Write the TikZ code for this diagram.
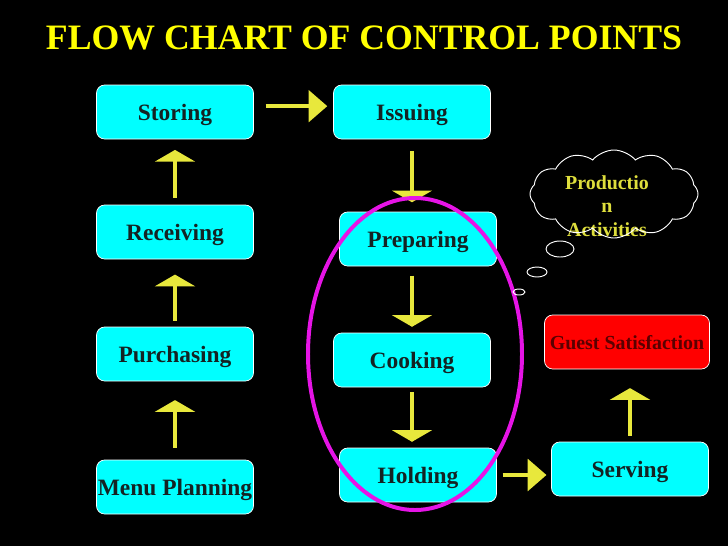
\documentclass[tikz,border=0pt]{standalone}
\usepackage{fontspec}
\setmainfont{Liberation Serif}
\usetikzlibrary{arrows.meta,shapes.symbols}
\definecolor{boxcyan}{RGB}{0,255,255}
\definecolor{boxtext}{RGB}{20,35,35}
\definecolor{guestred}{RGB}{255,0,0}
\definecolor{guesttext}{RGB}{90,0,0}
\definecolor{arrowyellow}{RGB}{232,232,60}
\definecolor{titleyellow}{RGB}{255,255,0}
\definecolor{cloudyellow}{RGB}{222,222,60}
\definecolor{loopmagenta}{RGB}{230,20,230}

\begin{document}
\begin{tikzpicture}[x=0.03cm,y=-0.03cm,
  stagebox/.style={draw=white,line width=0.6pt,fill=boxcyan,rounded corners=7pt,
    minimum width=4.71cm,minimum height=1.62cm,inner sep=0pt,text=boxtext,
    text depth=0pt,font=\bfseries\fontsize{20}{24}\selectfont},
  goalbox/.style={stagebox,fill=guestred,text=guesttext,minimum width=4.95cm,
    font=\bfseries\fontsize{17}{20}\selectfont},
  vflow/.style={draw=arrowyellow,line width=3pt,-{Triangle[width=34pt,length=10pt]}},
  hflow/.style={draw=arrowyellow,line width=3pt,-{Triangle[width=27pt,length=16pt]}}]
  \useasboundingbox (0,0) rectangle (728,546);
  \fill[black] (0,0) rectangle (728,546);
  % --- title ---
  \node[text=titleyellow,font=\bfseries\fontsize{30.5}{36}\selectfont] (title) at (364,38) {FLOW CHART OF CONTROL POINTS};
  % --- left column ---
  \node[stagebox] (storing) at (175,112) {Storing};
  \node[stagebox] (receiving) at (175,232) {Receiving};
  \node[stagebox] (purchasing) at (175,354) {Purchasing};
  \node[stagebox] (menu) at (175,487) {Menu Planning};
  % --- middle column ---
  \node[stagebox] (issuing) at (412,112) {Issuing};
  \node[stagebox] (preparing) at (418,239) {Preparing};
  \node[stagebox] (cooking) at (412,360) {Cooking};
  \node[stagebox] (holding) at (418,475) {Holding};
  % --- right column ---
  \node[stagebox] (serving) at (630,469) {Serving};
  \node[goalbox] (guest) at (627,342) {Guest Satisfaction};
  % --- arrows ---
  \draw[vflow,shorten <=10pt,shorten >=16pt] (menu) -- (purchasing);
  \draw[vflow,shorten <=5pt,shorten >=13pt] (purchasing) -- (receiving);
  \draw[vflow,shorten <=6pt,shorten >=9pt] (receiving) -- (storing);
  \draw[hflow,shorten <=10pt,shorten >=5pt] ([yshift=5pt]storing.east) -- ([yshift=5pt]issuing.west);
  \draw[vflow,shorten <=10pt,shorten >=8pt] (issuing.south) -- (issuing.south |- preparing.north);
  \draw[vflow,shorten <=8pt,shorten >=5pt] (cooking.north |- preparing.south) -- (cooking.north);
  \draw[vflow,shorten <=4pt,shorten >=5pt] (cooking.south) -- (cooking.south |- holding.north);
  \draw[hflow,shorten <=5pt,shorten >=4pt] (holding.east) -- (holding.east -| serving.west);
  \draw[vflow,shorten <=5pt,shorten >=16pt] (serving.north) -- (serving.north |- guest.south);
  % --- production loop ---
  \draw[loopmagenta,line width=3.4pt] (415,354) ellipse [x radius=107,y radius=156];
  % --- thought cloud ---
  \node[text=cloudyellow,align=center,font=\bfseries\fontsize{17}{20}\selectfont] (activities) at (607,206) {Productio\\n\\Activities};
  \node[cloud,draw=white,line width=0.8pt,cloud puffs=12,cloud puff arc=100,aspect=2,
    minimum width=5.04cm,minimum height=2.64cm] (thought) at (614,194) {};
  \draw[white,line width=0.8pt] (560,249) ellipse [x radius=14,y radius=8];
  \draw[white,line width=0.8pt] (537,272) ellipse [x radius=10,y radius=5];
  \draw[white,line width=0.8pt] (519,292) ellipse [x radius=6,y radius=3];
\end{tikzpicture}
\end{document}
